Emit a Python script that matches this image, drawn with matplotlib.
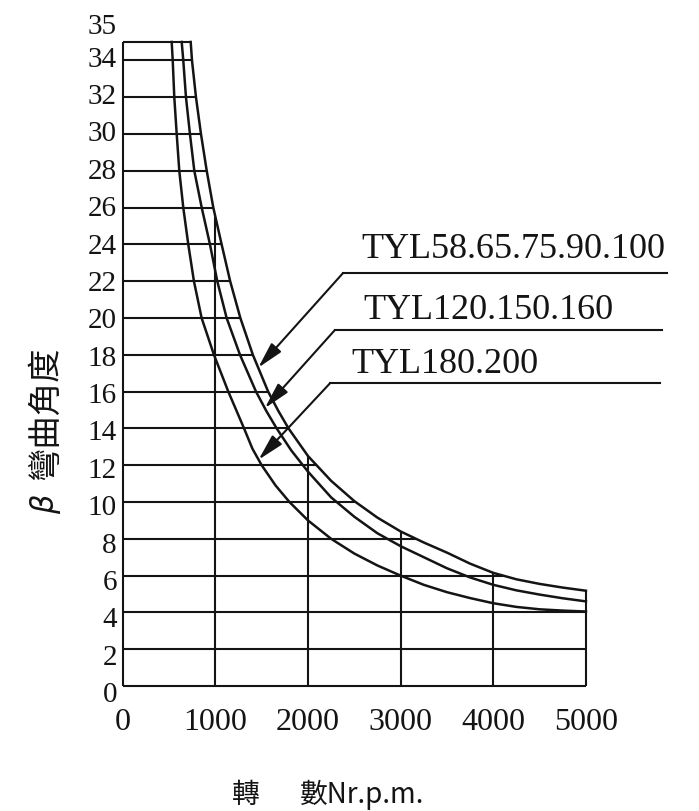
import numpy as np
import matplotlib
matplotlib.use("Agg")
from matplotlib import pyplot as plt

# bend angle (deg) against speed (r.p.m.) along each curve
outer_rpm = [734, 748, 791, 845, 907, 978, 1068, 1160, 1270, 1405, 1570, 1680,
             1790, 2000, 2250, 2500, 2750, 3000, 3250, 3500, 3750, 4000, 4250,
             4500, 4750, 5000]
outer_beta = [35, 34, 32, 30, 28, 26, 24, 22, 20, 18, 16, 14.95,
              14, 12.5, 11.15, 10.05, 9.15, 8.4, 7.8, 7.25, 6.65, 6.15, 5.8,
              5.55, 5.35, 5.18]

middle_rpm = [637, 654, 683, 726, 773, 853, 942, 1021, 1122, 1266, 1439, 1550,
              1662, 1820, 2000, 2250, 2500, 2750, 3000, 3250, 3500, 3750, 4000,
              4250, 4500, 4750, 5000]
middle_beta = [35, 34, 32, 30, 28, 26, 24, 22, 20, 18, 16, 14.95,
               14, 12.8, 11.65, 10.25, 9.2, 8.3, 7.6, 7.0, 6.4, 5.9, 5.5,
               5.2, 4.97, 4.77, 4.6]

inner_rpm = [529, 540, 557, 583, 611, 654, 708, 769, 852, 985, 1140, 1310,
             1400, 1500, 1650, 1800, 2000, 2250, 2500, 2750, 3000, 3250, 3500,
             3750, 4000, 4250, 4500, 4750, 5000]
inner_beta = [35, 34, 32, 30, 28, 26, 24, 22, 20, 18, 16, 14,
              12.9, 12, 10.9, 10, 9.0, 8.0, 7.2, 6.55, 6.0, 5.5, 5.1,
              4.78, 4.5, 4.3, 4.17, 4.1, 4.05]

series_names = ["TYL58.65.75.90.100", "TYL120.150.160", "TYL180.200"]
y_ticks = list(range(0, 35, 2)) + [35]
x_ticks = [0, 1000, 2000, 3000, 4000, 5000]

ink = "#141414"
serif = "Liberation Serif"
cjk = ["Noto Sans CJK TC", "DejaVu Sans"]

fig = plt.figure(figsize=(6.99, 8.11), dpi=100)
ax = fig.add_axes([0, 0, 1, 1])
ax.set_xlim(-1324, 6220)
ax.set_ylim(-6.79, 37.28)
ax.axis("off")

ob = np.array(outer_beta)
orpm = np.array(outer_rpm)

# ruled lines stop at the outermost curve
for b in y_ticks:
    end = np.interp(b, ob[::-1], orpm[::-1])
    ax.plot([0, end], [b, b], color=ink, lw=1.5, solid_capstyle="butt")
for n in x_ticks:
    top = 35 if n == 0 else np.interp(n, orpm, ob)
    ax.plot([n, n], [0, top], color=ink, lw=1.5, solid_capstyle="butt")

curves = [(outer_rpm, outer_beta), (middle_rpm, middle_beta), (inner_rpm, inner_beta)]
for rpm, beta in curves:
    ax.plot(rpm, beta, color=ink, lw=1.8, solid_joinstyle="round")

# tick labels
for v in y_ticks:
    ypos = 35.8 if v == 35 else v * 1.016 - 0.5
    ax.text(-62, ypos, str(v), ha="right", va="center", fontsize=21,
            family=serif, color=ink)
for n in x_ticks:
    ax.text(n, -1.96, str(n), ha="center", va="center", fontsize=23,
            family=serif, color=ink)

# leader lines with arrows onto each curve
leaders = [
    (2376, 22.43, 5874, 17.3, 23.24, 2579),
    (2291, 19.35, 5817, 15.1, 19.92, 2597),
    (2237, 16.45, 5798, 12.3, 17.0, 2471),
]
for (rpm, beta), name, (cx, cy, xend, tip_b, text_y, text_x) in zip(curves, series_names, leaders):
    tip_n = np.interp(tip_b, np.array(beta)[::-1], np.array(rpm)[::-1])
    ax.plot([xend, cx], [cy, cy], color=ink, lw=1.5)
    ax.annotate("", xy=(tip_n, tip_b), xytext=(cx, cy),
                arrowprops=dict(arrowstyle="-|>,head_length=0.8,head_width=0.2",
                                mutation_scale=20, color=ink, lw=1.5,
                                shrinkA=0, shrinkB=0))
    ax.text(text_x, text_y, name, ha="left", va="baseline", fontsize=26,
            family=serif, color=ink)

# axis titles
ax.text(1181, -5.92, "轉", ha="left", va="center", fontsize=20, family=cjk, color=ink)
ax.text(1914, -5.92, "數Nr.p.m.", ha="left", va="center", fontsize=20, family=cjk, color=ink)
ax.text(-830, 14.85, "彎曲角度", ha="center", va="center", rotation=90,
        fontsize=24, family=cjk, color=ink)
ax.text(-830, 9.9, "β", ha="center", va="center", rotation=90,
        fontsize=22, family="DejaVu Sans", style="italic", color=ink)

fig.savefig("out.png", dpi=100, facecolor="white")
